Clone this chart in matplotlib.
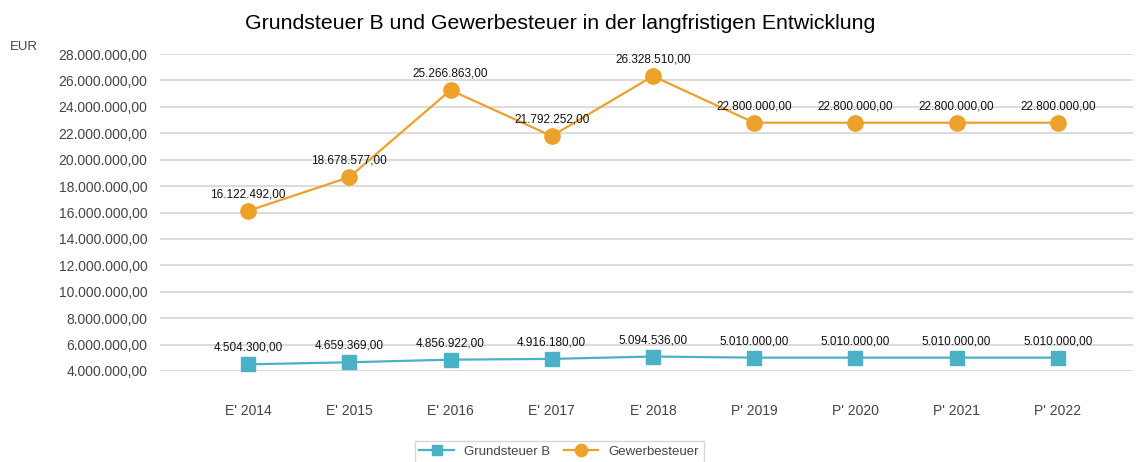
import matplotlib.pyplot as plt
from matplotlib.ticker import FuncFormatter

plt.rcParams['font.family'] = ['Liberation Sans', 'DejaVu Sans']

years = ["E' 2014", "E' 2015", "E' 2016", "E' 2017", "E' 2018",
         "P' 2019", "P' 2020", "P' 2021", "P' 2022"]
grundsteuer_b = [4504300, 4659369, 4856922, 4916180, 5094536,
                 5010000, 5010000, 5010000, 5010000]
gewerbesteuer = [16122492, 18678577, 25266863, 21792252, 26328510,
                 22800000, 22800000, 22800000, 22800000]


def de_fmt(v, pos=None):
    s = f"{v:,.2f}"
    return s.replace(",", "X").replace(".", ",").replace("X", ".")


teal = "#4AB1C6"
orange = "#ECA12B"

fig = plt.figure(figsize=(11.39, 4.62), dpi=100)
ax = fig.add_axes([0.1405, 0.197, 0.854, 0.686])

x = range(len(years))
ax.plot(x, grundsteuer_b, color=teal, lw=1.6, marker='s', ms=9.5,
        label='Grundsteuer B', clip_on=False, zorder=3)
ax.plot(x, gewerbesteuer, color=orange, lw=1.6, marker='o', ms=11,
        label='Gewerbesteuer', clip_on=False, zorder=3)

for series in (grundsteuer_b, gewerbesteuer):
    for i, v in enumerate(series):
        ax.annotate(de_fmt(v), (i, v), xytext=(0, 7.5), textcoords='offset points',
                    ha='center', va='bottom', fontsize=8.5, color='#111111')

ax.set_xlim(-0.87, 8.74)
ax.set_ylim(4000000, 28000000)
ax.set_yticks(range(4000000, 28000001, 2000000))
ax.yaxis.set_major_formatter(FuncFormatter(de_fmt))
ax.set_xticks(list(x))
ax.set_xticklabels(years)
ax.tick_params(axis='y', length=0, pad=9, labelsize=10, labelcolor='#444444')
ax.tick_params(axis='x', length=0, pad=23.5, labelsize=10, labelcolor='#444444')
ax.grid(axis='y', color='#d9d9d9', lw=1.3)
ax.set_axisbelow(True)
for s in ax.spines.values():
    s.set_visible(False)

fig.text(0.492, 0.95, 'Grundsteuer B und Gewerbesteuer in der langfristigen Entwicklung',
         ha='center', va='center', fontsize=15.3)
fig.text(0.009, 0.898, 'EUR', ha='left', va='center', fontsize=9.5, color='#444444')

leg = fig.legend(loc='center', bbox_to_anchor=(0.491, 0.022), ncol=2, frameon=True,
                 fontsize=9.5, fancybox=False, edgecolor='#cccccc', markerscale=0.8,
                 handlelength=2.6, columnspacing=1.0, borderpad=0.35)
for t in leg.get_texts():
    t.set_color('#444444')

fig.savefig('out.png', dpi=100)
